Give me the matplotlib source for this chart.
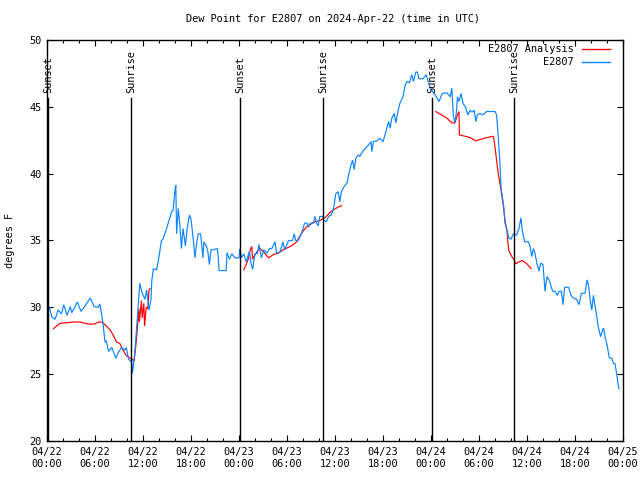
import numpy as np
import matplotlib
matplotlib.use("Agg")
import matplotlib.pyplot as plt
from matplotlib.ticker import MultipleLocator

# hours since 2024-04-22 00:00 UTC
blue_hours = [0.05, 0.3, 0.6, 1.0, 1.4, 1.8, 2.1, 2.5, 2.9, 3.1, 3.8, 4.25, 4.7, 5.4, 5.9, 6.4, 6.6, 6.8,
              7.0, 7.25, 7.4, 7.7, 8.1, 8.6, 8.9, 9.3, 9.75, 9.9, 10.2, 10.6, 10.67, 10.9, 11.1, 11.3,
              11.6, 11.9, 12.25, 12.45, 12.75, 13.0, 13.1, 13.3, 13.7, 14.0, 14.3, 14.5, 14.9, 15.2,
              15.6, 15.75, 16.0, 16.1, 16.2, 16.4, 16.6, 16.8, 17.0, 17.3, 17.5, 17.8, 18.0, 18.3,
              18.5, 18.7, 18.9, 19.2, 19.5, 19.6, 19.9, 20.1, 20.3, 20.5, 20.7, 21.3, 21.4, 21.5,
              22.4, 22.5, 22.8, 23.1, 23.5, 24.0, 24.1, 24.3, 24.6, 24.9, 25.3, 25.5, 25.7, 26.0,
              26.3, 26.5, 26.8, 27.1, 27.5, 27.8, 28.1, 28.5, 28.7, 29.1, 29.5, 29.7, 30.2, 30.7,
              30.9, 31.1, 31.4, 31.8, 32.2, 32.5, 32.7, 32.9, 33.3, 33.5, 33.7, 33.9, 34.1, 34.5,
              34.6, 34.9, 35.2, 35.5, 35.8, 36.1, 36.4, 36.6, 36.8, 37.1, 37.5, 37.7, 38.0, 38.2,
              38.4, 38.6, 38.9, 39.1, 39.5, 39.8, 40.2, 40.5, 40.6, 40.8, 41.2, 41.6, 42.0, 42.25,
              42.7, 42.9, 43.1, 43.4, 43.6, 43.9, 44.1, 44.5, 44.75, 45.0, 45.3, 45.6, 45.8, 46.1,
              46.3, 46.5, 47.0, 47.4, 47.6, 47.9, 48.1, 48.5, 49.0, 49.4, 50.0, 50.4, 50.6, 50.8,
              51.0, 51.2, 51.3, 51.5, 51.75, 52.0, 52.3, 52.6, 52.9, 53.1, 53.4, 53.6, 53.8, 54.1,
              54.5, 54.95, 56.0, 56.2, 56.4, 56.6, 56.75, 56.9, 57.1, 57.25, 57.5, 57.7, 58.0, 58.3,
              58.7, 59.0, 59.25, 59.4, 59.7, 60.2, 60.4, 60.6, 60.8, 61.0, 61.2, 61.5, 61.7, 62.0,
              62.25, 62.5, 62.8, 63.2, 63.5, 63.8, 64.0, 64.3, 64.5, 64.7, 65.2, 65.5, 65.8, 66.2,
              66.5, 66.8, 67.25, 67.5, 67.7, 67.9, 68.1, 68.3, 68.5, 68.7, 68.9, 69.2, 69.5, 69.6,
              69.75, 70.0, 70.3, 70.6, 70.8, 71.0, 71.2, 71.4, 71.5]
blue_values = [29.5, 30.0, 29.3, 29.1, 29.8, 29.5, 30.2, 29.4, 30.05, 29.6, 30.4, 29.7, 30.05, 30.7, 30.05, 30.0, 30.25, 29.6,
               28.8, 27.4, 27.5, 26.7, 27.0, 26.2, 26.6, 27.0, 26.8, 27.0, 26.1, 25.9, 25.05, 26.1, 27.6, 29.3,
               31.8, 31.05, 30.6, 31.3, 29.8, 30.6, 32.0, 32.9, 32.8, 33.8, 35.0, 35.1, 35.8, 36.4,
               37.2, 37.2, 38.8, 39.15, 35.5, 37.4, 36.2, 34.4, 35.9, 34.6, 35.8, 36.9, 36.6, 35.0,
               33.7, 34.8, 35.5, 35.5, 33.7, 34.9, 34.6, 34.2, 33.2, 34.3, 34.3, 34.4, 33.8, 32.75,
               32.75, 34.1, 33.6, 34.0, 33.7, 33.7, 34.4, 33.7, 34.0, 33.4, 34.2, 33.3, 32.85, 34.0,
               34.05, 34.7, 33.7, 34.3, 34.05, 34.4, 34.4, 34.9, 34.05, 34.1, 34.9, 34.3, 35.0, 35.0,
               35.5, 35.0, 35.0, 35.5, 36.3, 36.3, 36.0, 36.3, 36.3, 36.8, 36.3, 36.1, 36.8, 36.8,
               36.5, 36.4, 36.8, 36.9, 37.3, 38.5, 38.65, 37.9, 38.65, 39.0, 39.3, 39.9, 40.65, 41.0,
               40.3, 41.15, 41.4, 41.3, 41.7, 41.9, 42.15, 42.4, 41.65, 42.4, 42.45, 42.65, 42.4, 42.9,
               43.9, 43.4, 44.15, 44.5, 43.8, 44.75, 45.25, 45.75, 46.6, 46.9, 46.8, 47.4, 46.9, 47.6,
               47.6, 47.1, 47.1, 47.4, 47.0, 46.4, 46.25, 45.9, 45.4, 46.0, 46.05, 45.75, 46.4, 44.3,
               43.8, 44.75, 45.75, 45.4, 46.0, 45.25, 45.0, 44.4, 44.75, 44.6, 44.75, 43.9, 44.4, 44.5,
               44.4, 44.65, 44.65, 44.4, 42.8, 41.0, 39.0, 38.3, 37.5, 36.3, 35.8, 35.2, 35.1, 35.5,
               35.4, 35.9, 36.7, 35.8, 34.9, 34.9, 34.5, 33.8, 34.4, 34.05, 33.4, 32.7, 33.3, 33.2,
               31.2, 32.3, 32.0, 31.2, 31.2, 30.9, 31.2, 31.2, 30.2, 31.5, 31.5, 30.9, 30.7, 30.6,
               30.2, 31.05, 31.05, 32.05, 31.6, 30.55, 29.8, 30.9, 30.1, 29.4, 28.55, 27.8, 28.4, 28.4,
               27.8, 27.2, 26.2, 26.2, 25.8, 25.8, 25.05, 24.2, 23.9]

# analysis series, None marks a gap
red_hours = [0.8, 1.6, 3.3, 4.1, 5.2, 5.9, 6.4, 6.9, 7.25, 7.9, 8.3, 8.7, 9.1, 9.5, 9.9, 10.4, 10.8,
             10.9, 11.15, 11.5, 11.55, 11.8, 11.9, 12.1, 12.2, 12.4, 12.6, 12.75, 12.9, 13.0,
             24.6, 24.9, 25.2, 25.4, 25.6, 25.7, 25.9, 26.3, 26.6, 27.0, 27.7, 28.3, 28.9, 29.5, 30.4,
             30.8, 31.2, 31.6, 32.0, 32.5, 32.9, 33.5, 34.1, 34.75, 35.3, 35.8, 36.4, 36.8, 37.0,
             48.6, 49.3, 50.0, 50.6, 51.0, 51.3, 51.5, 51.55, 52.25, 52.9, 53.6, 54.1, 55.0, 55.8,
             56.0, 56.2, 56.4, 56.75, 57.0, 57.25, 57.5, 57.6, 57.75, 58.1, 58.4, 58.6, 59.0, 59.4,
             60.0, 60.5]
red_values = [28.4, 28.8, 28.9, 28.9, 28.75, 28.75, 28.9, 28.9, 28.7, 28.3, 27.9, 27.4, 27.3, 26.8, 26.4, 26.2, 26.05,
              26.0, 27.4, 29.9, 28.9, 30.5, 29.2, 30.3, 28.6, 30.0, 29.9, 31.3, 31.4, None,
              32.8, 33.2, 33.7, 34.3, 34.55, 33.6, 33.85, 34.2, 34.4, 34.2, 33.7, 33.95, 34.05, 34.3, 34.55,
              34.7, 34.9, 35.3, 35.7, 36.05, 36.2, 36.4, 36.5, 36.7, 37.05, 37.3, 37.5, 37.6, None,
              44.65, 44.4, 44.15, 43.8, 43.8, 44.4, 44.65, 42.9, 42.8, 42.7, 42.45, 42.55, 42.7, 42.8,
              42.0, 41.0, 40.0, 38.8, 37.8, 36.5, 35.7, 34.9, 34.2, 33.8, 33.55, 33.25, 33.4, 33.5,
              33.25, 32.9]

sun_hours = [0.15, 10.5, 24.1, 34.5, 48.1, 58.4]
sun_labels = ["Sunset", "Sunrise", "Sunset", "Sunrise", "Sunset", "Sunrise"]

tick_hours = list(range(0, 73, 6))
tick_labels = ["04/22\n00:00", "04/22\n06:00", "04/22\n12:00", "04/22\n18:00",
               "04/23\n00:00", "04/23\n06:00", "04/23\n12:00", "04/23\n18:00",
               "04/24\n00:00", "04/24\n06:00", "04/24\n12:00", "04/24\n18:00",
               "04/25\n00:00"]

FONT = "DejaVu Sans Mono"
FS = 7.4
RED = "#ff0000"
BLUE = "#0a84ff"

fig = plt.figure(figsize=(6.4, 4.8), dpi=100)
ax = fig.add_axes([47 / 640, 39 / 480, 576 / 640, 401 / 480])

rv = np.array([np.nan if v is None else v for v in red_values], dtype=float)
ax.plot(red_hours, rv, color=RED, lw=0.85, solid_joinstyle="miter")
ax.plot(blue_hours, blue_values, color=BLUE, lw=0.85, solid_joinstyle="miter")

ax.set_xlim(0, 72)
ax.set_ylim(20, 50)

line_top = 45.66
for h, lab in zip(sun_hours, sun_labels):
    ax.plot([h, h], [20, line_top], color="black", lw=1.0)
    ax.text(h, 46.05, lab, rotation=90, ha="center", va="bottom",
            fontsize=FS, family=FONT)

ax.set_xticks(tick_hours)
ax.set_xticklabels(tick_labels, fontsize=FS, family=FONT, linespacing=1.25)
ax.xaxis.set_minor_locator(MultipleLocator(2))
ax.set_yticks([20, 25, 30, 35, 40, 45, 50])
ax.set_yticklabels(["20", "25", "30", "35", "40", "45", "50"], fontsize=FS, family=FONT)
ax.tick_params(axis="both", which="major", direction="in", length=4.5, width=0.8,
               top=True, right=True, pad=4)
ax.tick_params(axis="x", which="minor", direction="in", length=2.5, width=0.8, top=True)
for s in ax.spines.values():
    s.set_linewidth(1.0)

ax.set_ylabel("degrees F", fontsize=FS, family=FONT, labelpad=10)
fig.text(333 / 640, 1 - 19 / 480, "Dew Point for E2807 on 2024-Apr-22 (time in UTC)",
         ha="center", va="center", fontsize=FS, family=FONT)

# gnuplot-style key
for i, (lab, col) in enumerate([("E2807 Analysis", RED), ("E2807", BLUE)]):
    yk = 1 - (49 + 13 * i) / 480
    fig.text(574 / 640, yk, lab, ha="right", va="center", fontsize=FS, family=FONT)
    fig.add_artist(plt.Line2D([582 / 640, 610 / 640], [yk, yk], color=col, lw=1.0,
                              transform=fig.transFigure))

fig.savefig("out.png", dpi=100)
